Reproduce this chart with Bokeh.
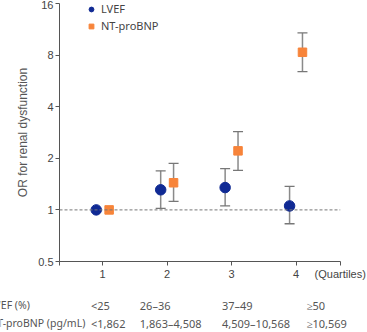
from bokeh.plotting import figure
from bokeh.layouts import column
from bokeh.models import (Range1d, FixedTicker, Span, Whisker, TeeHead, ColumnDataSource,
                          Legend, LegendItem)
from bokeh.embed import file_html
from bokeh.resources import INLINE

# Odds ratios (with 95% CI) for renal dysfunction by quartile
quartiles = [1, 2, 3, 4]
lvef_or = [1.0, 1.31, 1.35, 1.055]
lvef_lo = [None, 1.02, 1.055, 0.83]
lvef_hi = [None, 1.69, 1.74, 1.37]
ntp_or = [1.0, 1.44, 2.21, 8.31]
ntp_lo = [None, 1.12, 1.70, 6.41]
ntp_hi = [None, 1.87, 2.86, 10.77]

y_ticks = [0.5, 1, 2, 4, 8, 16]
y_tick_labels = ["0.5", "1", "2", "4", "8", "16"]

row_titles = ["LVEF (%)", "NT-proBNP (pg/mL)"]
lvef_ranges = ["<25", "26–36", "37–49", "≥50"]
ntp_ranges = ["<1,862", "1,863–4,508", "4,509–10,568", "≥10,569"]

NAVY = "#102a94"
ORANGE = "#f7843a"
GREY = "#8a8a8a"
TEXT = "#444444"
OFFSET = 0.1
X0, X1 = 0.33, 4.69
W = 367
BORDER_L, BORDER_R = 59, 27

p = figure(width=W, height=290, output_backend="svg", toolbar_location=None,
           x_range=Range1d(X0, X1), y_range=Range1d(0.5, 16), y_axis_type="log",
           min_border_left=BORDER_L, min_border_right=BORDER_R, min_border_top=3,
           min_border_bottom=29)
p.outline_line_color = None
p.grid.visible = False
p.frame_align = False

# axes
x_ticks = [X0 + 0.004, 1, 2, 3, 4, X1 - 0.004]
p.xaxis.ticker = FixedTicker(ticks=x_ticks)
p.xaxis.major_label_overrides = {x_ticks[0]: "", x_ticks[-1]: "(Quartiles)"}
p.yaxis.ticker = FixedTicker(ticks=y_ticks)
p.yaxis.major_label_overrides = dict(zip(y_ticks, y_tick_labels))
for ax in (p.xaxis[0], p.yaxis[0]):
    ax.axis_line_color = "#555555"
    ax.major_tick_line_color = "#555555"
    ax.major_tick_out = 4
    ax.major_tick_in = 0
    ax.minor_tick_line_color = None
    ax.major_label_text_font = "Liberation Sans"
    ax.major_label_text_font_size = "11px"
    ax.major_label_text_color = TEXT
    ax.major_label_standoff = 2
p.yaxis.axis_label = "OR for renal dysfunction"
p.yaxis.axis_label_text_font = "Liberation Sans"
p.yaxis.axis_label_text_font_style = "normal"
p.yaxis.axis_label_text_font_size = "12px"
p.yaxis.axis_label_text_color = "#555555"
p.yaxis.axis_label_standoff = 5

# reference line at OR = 1
p.add_layout(Span(location=1, dimension="width", line_color="#777777",
                  line_dash="3 2", line_width=1))

def ci_source(xs, lo, hi, shift):
    rows = [(x + shift, l, h) for x, l, h in zip(xs, lo, hi) if l is not None]
    return ColumnDataSource(dict(x=[r[0] for r in rows], lower=[r[1] for r in rows],
                                 upper=[r[2] for r in rows]))

for lo, hi, shift in ((lvef_lo, lvef_hi, -OFFSET), (ntp_lo, ntp_hi, OFFSET)):
    w = Whisker(source=ci_source(quartiles, lo, hi, shift), base="x", lower="lower",
                upper="upper", line_color=GREY, line_width=1.5, level="underlay",
                upper_head=TeeHead(size=10, line_color="#777777", line_width=1.3),
                lower_head=TeeHead(size=10, line_color="#777777", line_width=1.3))
    p.add_layout(w)

r_lvef = p.scatter([q - OFFSET for q in quartiles], lvef_or, marker="circle", size=10.5,
                   fill_color=NAVY, line_color=NAVY)
r_ntp = p.scatter([q + OFFSET for q in quartiles], ntp_or, marker="square", size=8.5,
                  fill_color=ORANGE, line_color=ORANGE)

legend = Legend(items=[LegendItem(label="LVEF", renderers=[r_lvef]),
                       LegendItem(label="NT-proBNP", renderers=[r_ntp])],
                location=(26, 228), border_line_color=None, background_fill_alpha=0,
                padding=2, margin=0, spacing=2, glyph_width=12, glyph_height=14,
                label_height=14, label_standoff=4, label_text_font="Noto Sans",
                label_text_font_size="11px", label_text_color=TEXT)
p.add_layout(legend)

# quartile cut-off table, on the same horizontal scale as the plot above
unit = (W - BORDER_L - BORDER_R) / (X1 - X0)
t = figure(width=W, height=42, output_backend="svg", toolbar_location=None,
           x_range=Range1d(X0 - BORDER_L / unit, X1 + BORDER_R / unit),
           y_range=Range1d(-0.5, 1.83), min_border=0, x_axis_location=None,
           y_axis_location=None)
t.grid.visible = False
t.outline_line_color = None
t.frame_align = False

rows = [1, 0]
title_x = -0.76
titles = ColumnDataSource(dict(x=[title_x, title_x], y=rows, text=row_titles))
t.text(x="x", y="y", text="text", source=titles, text_font_size="10.5px",
       text_font={"value": "Noto Sans"}, text_color="#555555", text_baseline="middle",
       text_align="left")

col_x = [0.819, 1.576, 2.851, 4.162]
cells = ColumnDataSource(dict(
    x=col_x + col_x,
    y=[rows[0]] * 4 + [rows[1]] * 4,
    text=lvef_ranges + ntp_ranges,
))
t.text(x="x", y="y", text="text", source=cells, text_font_size="11px",
       text_font={"value": "Noto Sans"}, text_color="#555555", text_baseline="middle",
       text_align="left")

open("out.html", "w").write(file_html(column(p, t, spacing=0), INLINE))
